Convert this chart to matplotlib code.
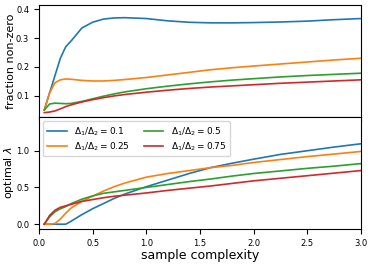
import matplotlib
matplotlib.use("Agg")
import matplotlib.pyplot as plt

# sample complexity grid
x = [0.05, 0.1, 0.15, 0.2, 0.25, 0.3, 0.4, 0.5, 0.6, 0.7, 0.8, 1.0,
     1.2, 1.4, 1.6, 1.8, 2.0, 2.25, 2.5, 2.75, 3.0]

labels = [r"$\Delta_1/\Delta_2 = 0.1$", r"$\Delta_1/\Delta_2 = 0.25$",
          r"$\Delta_1/\Delta_2 = 0.5$", r"$\Delta_1/\Delta_2 = 0.75$"]
colors = ["#1f77b4", "#ff7f0e", "#2ca02c", "#d62728"]

# fraction non-zero
frac_01 = [0.05, 0.11, 0.17, 0.23, 0.27, 0.29, 0.335, 0.355, 0.366, 0.370, 0.371, 0.368,
           0.36, 0.355, 0.353, 0.353, 0.354, 0.356, 0.359, 0.364, 0.368]
frac_025 = [0.05, 0.11, 0.145, 0.155, 0.158, 0.157, 0.153, 0.151, 0.151, 0.153, 0.156, 0.163,
            0.172, 0.181, 0.19, 0.197, 0.203, 0.21, 0.217, 0.224, 0.23]
frac_05 = [0.05, 0.071, 0.074, 0.073, 0.072, 0.073, 0.08, 0.089, 0.098, 0.106, 0.113, 0.124,
           0.133, 0.141, 0.148, 0.154, 0.159, 0.165, 0.17, 0.174, 0.178]
frac_075 = [0.041, 0.043, 0.047, 0.054, 0.062, 0.068, 0.078, 0.086, 0.093, 0.099, 0.104, 0.112,
            0.119, 0.125, 0.13, 0.134, 0.138, 0.143, 0.147, 0.151, 0.155]

# optimal lambda
lam_01 = [0, 0, 0, 0, 0, 0.04, 0.13, 0.21, 0.28, 0.35, 0.41, 0.51,
          0.6, 0.69, 0.77, 0.83, 0.885, 0.95, 1.0, 1.05, 1.095]
lam_025 = [0, 0, 0.01, 0.07, 0.15, 0.22, 0.31, 0.38, 0.45, 0.51, 0.56, 0.64,
           0.69, 0.73, 0.77, 0.8, 0.84, 0.88, 0.92, 0.955, 0.99]
lam_05 = [0, 0.1, 0.17, 0.21, 0.24, 0.28, 0.34, 0.385, 0.42, 0.44, 0.46, 0.5,
          0.54, 0.58, 0.615, 0.655, 0.69, 0.725, 0.76, 0.79, 0.825]
lam_075 = [0, 0.12, 0.19, 0.23, 0.25, 0.27, 0.31, 0.335, 0.36, 0.38, 0.395, 0.425,
           0.46, 0.49, 0.52, 0.555, 0.59, 0.625, 0.66, 0.695, 0.73]

fracs = [frac_01, frac_025, frac_05, frac_075]
lams = [lam_01, lam_025, lam_05, lam_075]

fig = plt.figure(figsize=(3.74, 2.64), dpi=100)
ax1 = fig.add_axes([0.104, 0.557, 0.861, 0.424])
ax2 = fig.add_axes([0.104, 0.133, 0.861, 0.424], sharex=ax1)

for ys, c, lab in zip(fracs, colors, labels):
    ax1.plot(x, ys, color=c, lw=1.2, label=lab)
for ys, c, lab in zip(lams, colors, labels):
    ax2.plot(x, ys, color=c, lw=1.2, label=lab)

ax1.set_ylim(0.026, 0.415)
ax1.set_yticks([0.1, 0.2, 0.3, 0.4])
ax1.tick_params(labelbottom=False, labelsize=6)
ax1.set_ylabel("fraction non-zero", fontsize=8)

ax2.set_xlim(0, 3.0)
ax2.set_ylim(-0.064, 1.46)
ax2.set_yticks([0.0, 0.5, 1.0])
ax2.tick_params(labelsize=6)
ax2.set_ylabel(r"optimal $\lambda$", fontsize=8)
ax2.set_xlabel("sample complexity", fontsize=9, labelpad=1)
ax2.legend(loc="upper left", ncol=2, fontsize=6.5, handlelength=2.2,
           columnspacing=1.5, borderpad=0.4, labelspacing=0.3)

for ax in (ax1, ax2):
    ax.yaxis.set_label_coords(-0.07, 0.5)

fig.savefig("out.png", dpi=100)
